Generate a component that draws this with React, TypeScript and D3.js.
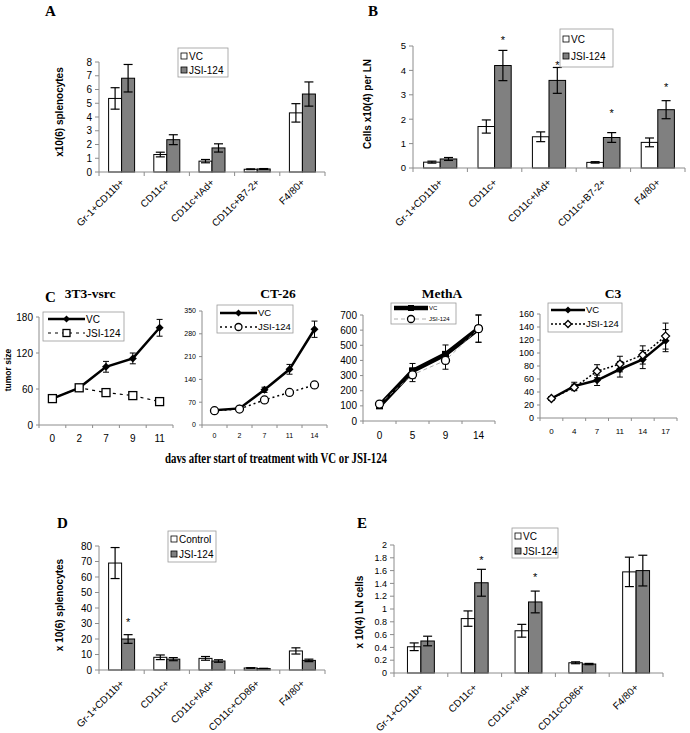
import * as d3 from "d3";

const SANS = "'Liberation Sans', Arial, Helvetica, sans-serif";
const SERIF = "'Liberation Serif', 'Times New Roman', serif";
const BAR_GREY = "#808080";
const AXIS = "#8c8c8c";

// ---------- bar panels ----------
const catsA = ["Gr-1+CD11b+", "CD11c+", "CD11c+IAd+", "CD11c+B7-2+", "F4/80+"];
const vcA = [5.35, 1.27, 0.79, 0.2, 4.3];
const vcErrA = [0.78, 0.17, 0.12, 0.03, 0.67];
const jsiA = [6.82, 2.35, 1.75, 0.22, 5.67];
const jsiErrA = [1.0, 0.36, 0.3, 0.03, 0.88];
const ticksA = [0, 1, 2, 3, 4, 5, 6, 7, 8];

const catsB = ["Gr-1+CD11b+", "CD11c+", "CD11c+IAd+", "CD11c+B7-2+", "F4/80+"];
const vcB = [0.24, 1.7, 1.28, 0.23, 1.05];
const vcErrB = [0.04, 0.27, 0.2, 0.03, 0.18];
const jsiB = [0.37, 4.2, 3.59, 1.25, 2.39];
const jsiErrB = [0.06, 0.62, 0.53, 0.2, 0.37];
const starsB = [null, 5.34, 4.32, 2.34, 3.42];
const ticksB = [0, 1, 2, 3, 4, 5];

const catsD = ["Gr-1+CD11b+", "CD11c+", "CD11c+IAd+", "CD11c+CD86+", "F4/80+"];
const ctrlD = [69, 8.2, 7.5, 1.3, 12.3];
const ctrlErrD = [10, 1.5, 1.2, 0.2, 2];
const jsiD = [20, 7, 5.8, 0.9, 6.2];
const jsiErrD = [2.8, 1, 0.8, 0.2, 0.8];
const starsD = [32, null, null, null, null];
const ticksD = [0, 10, 20, 30, 40, 50, 60, 70, 80];

const catsE = ["Gr-1+CD11b+", "CD11c+", "CD11c+IAd+", "CD11cCD86+", "F4/80+"];
const vcE = [0.41, 0.85, 0.66, 0.16, 1.58];
const vcErrE = [0.06, 0.12, 0.1, 0.015, 0.23];
const jsiE = [0.5, 1.41, 1.11, 0.14, 1.6];
const jsiErrE = [0.075, 0.21, 0.17, 0.01, 0.24];
const starsE = [null, 1.8, 1.53, null, null];
const ticksE = [0, 0.2, 0.4, 0.6, 0.8, 1, 1.2, 1.4, 1.6, 1.8, 2];

// ---------- line panels (tumor size) ----------
const days3T3 = ["0", "2", "7", "9", "11"];
const vc3T3 = [44, 62, 97, 111, 162];
const vcErr3T3 = [3, 3, 9, 9, 14];
const jsi3T3 = [44, 62, 54, 49, 39];
const jsiErr3T3 = [2, 2, 2, 2, 2];
const ticks3T3 = [0, 60, 120, 180];

const daysCT = ["0", "2", "7", "11", "14"];
const vcCT = [45, 51, 108, 171, 294];
const vcErrCT = [4, 5, 8, 15, 25];
const jsiCT = [44, 49, 77, 100, 123];
const jsiErrCT = [3, 4, 5, 6, 8];
const ticksCT = [0, 70, 140, 210, 280, 350];

const daysMeth = ["0", "5", "9", "14"];
const vcMeth = [100, 330, 440, 610];
const vcErrMeth = [12, 50, 62, 90];
const jsiMeth = [112, 305, 400, 610];
const jsiErrMeth = [10, 45, 58, 90];
const ticksMeth = [0, 100, 200, 300, 400, 500, 600, 700];

const daysC3 = ["0", "4", "7", "11", "14", "17"];
const vcC3 = [30, 49, 58, 75, 90, 119];
const vcErrC3 = [3, 6, 8, 12, 14, 17];
const jsiC3 = [30, 47, 72, 83, 97, 126];
const jsiErrC3 = [3, 5, 10, 12, 14, 20];
const ticksC3 = [0, 20, 40, 60, 80, 100, 120, 140, 160];

type Legend = { x: number; y: number; w: number; h: number; rows: number[]; labels: string[] };

type BarProps = {
  x0: number; x1: number; yTop: number; yBot: number;
  ticks: number[]; cats: string[];
  s1: number[]; e1: number[]; s2: number[]; e2: number[];
  stars: (number | null)[];
  frac: number; labelDy: number;
  yLabel: string; yLabelX: number; yLabelY: number;
  legend: Legend; fs: number;
};

function BarPanel(p: BarProps) {
  const y = d3.scaleLinear().domain([0, d3.max(p.ticks)!]).range([p.yBot, p.yTop]);
  const g = d3.scaleBand().domain(p.cats).range([p.x0, p.x1]);
  const gw = g.bandwidth();
  const cap = 4.5;
  return (
    <g>
      {p.ticks.map((t) => (
        <g key={t}>
          <line x1={p.x0 - 4} x2={p.x0} y1={y(t)} y2={y(t)} stroke={AXIS} />
          <text x={p.x0 - 7} y={y(t)} dy="0.35em" textAnchor="end" fontSize={p.fs} fontFamily={SANS}>
            {String(t)}
          </text>
        </g>
      ))}
      {p.cats.map((c, i) => {
        const cx = g(c)! + gw / 2;
        const inner = d3.scaleBand().domain(["a", "b"]).range([cx - (gw * p.frac) / 2, cx + (gw * p.frac) / 2]);
        const bw = inner.bandwidth();
        const series = [
          { k: "a", v: p.s1[i], e: p.e1[i], fill: "#fff" },
          { k: "b", v: p.s2[i], e: p.e2[i], fill: BAR_GREY },
        ];
        return (
          <g key={c}>
            {series.map((s) => {
              const bx = inner(s.k)!;
              const mx = bx + bw / 2;
              return (
                <g key={s.k}>
                  <rect x={bx} y={y(s.v)} width={bw} height={p.yBot - y(s.v)} fill={s.fill} stroke="#000" strokeWidth={1} />
                  <line x1={mx} x2={mx} y1={y(s.v + s.e)} y2={y(Math.max(0, s.v - s.e))} stroke="#000" strokeWidth={1.2} />
                  <line x1={mx - cap} x2={mx + cap} y1={y(s.v + s.e)} y2={y(s.v + s.e)} stroke="#000" strokeWidth={1.2} />
                  <line x1={mx - cap} x2={mx + cap} y1={y(Math.max(0, s.v - s.e))} y2={y(Math.max(0, s.v - s.e))} stroke="#000" strokeWidth={1.2} />
                </g>
              );
            })}
            {p.stars[i] != null && (
              <text x={inner("b")! + bw / 2} y={y(p.stars[i]!) + 6} textAnchor="middle" fontSize={11} fontFamily={SANS}>
                *
              </text>
            )}
            <text
              transform={`translate(${cx + 3},${p.yBot + p.labelDy}) rotate(-45)`}
              textAnchor="end"
              fontSize={10}
              fontFamily={SANS}
            >
              {c}
            </text>
          </g>
        );
      })}
      <line x1={p.x0} x2={p.x0} y1={p.yTop} y2={p.yBot} stroke={AXIS} />
      <line x1={p.x0} x2={p.x1} y1={p.yBot} y2={p.yBot} stroke={AXIS} />
      {d3.range(p.cats.length + 1).map((i) => (
        <line key={i} x1={p.x0 + i * gw} x2={p.x0 + i * gw} y1={p.yBot} y2={p.yBot + 4} stroke={AXIS} />
      ))}
      <text
        transform={`translate(${p.yLabelX},${p.yLabelY}) rotate(-90)`}
        textAnchor="middle"
        fontSize={10}
        fontWeight="bold"
        fontFamily={SANS}
      >
        {p.yLabel}
      </text>
      <rect x={p.legend.x} y={p.legend.y} width={p.legend.w} height={p.legend.h} fill="#fff" stroke="#999" strokeWidth={0.8} />
      {p.legend.labels.map((l, i) => (
        <g key={l}>
          <rect x={p.legend.x + 3} y={p.legend.rows[i] - 3} width={6} height={6} fill={i === 0 ? "#fff" : BAR_GREY} stroke="#000" strokeWidth={0.8} />
          <text x={p.legend.x + 11} y={p.legend.rows[i]} dy="0.35em" fontSize={10} fontFamily={SANS}>
            {l}
          </text>
        </g>
      ))}
    </g>
  );
}

type MarkerKind = "diamond" | "square" | "circle" | "odiamond" | "osquare" | "ocircle";

function Marker({ kind, x, y, r }: { kind: MarkerKind; x: number; y: number; r: number }) {
  const open = kind.startsWith("o");
  const fill = open ? "#fff" : "#000";
  const sw = open ? 1.3 : 0;
  if (kind === "diamond" || kind === "odiamond")
    return <path d={`M${x},${y - r}L${x + r},${y}L${x},${y + r}L${x - r},${y}Z`} fill={fill} stroke="#000" strokeWidth={sw} />;
  if (kind === "square" || kind === "osquare")
    return <rect x={x - r} y={y - r} width={2 * r} height={2 * r} fill={fill} stroke="#000" strokeWidth={sw} />;
  return <circle cx={x} cy={y} r={r} fill={fill} stroke="#000" strokeWidth={sw} />;
}

type LineStyle = { width: number; dash?: string; color: string; marker: MarkerKind; r: number };

type LineProps = {
  x0: number; x1: number; yTop: number; yBot: number;
  ticks: number[]; days: string[];
  vc: number[]; vcErr: number[]; jsi: number[]; jsiErr: number[];
  title: string; titleX: number;
  yFs: number; xFs: number; xLabelY: number;
  vcStyle: LineStyle; jsiStyle: LineStyle;
  legend: { x: number; y: number; w: number; h: number; rows: number[]; lx0: number; lx1: number; tx: number; fs: number };
};

function LinePanel(p: LineProps) {
  const y = d3.scaleLinear().domain([0, d3.max(p.ticks)!]).range([p.yBot, p.yTop]);
  const x = d3.scaleBand().domain(p.days).range([p.x0, p.x1]);
  const bw = x.bandwidth();
  const px = (d: string) => x(d)! + bw / 2;
  const line = d3.line<number>().x((_, i) => px(p.days[i])).y((v) => y(v));
  const series = [
    { v: p.vc, e: p.vcErr, s: p.vcStyle, label: "VC" },
    { v: p.jsi, e: p.jsiErr, s: p.jsiStyle, label: "JSI-124" },
  ];
  const L = p.legend;
  return (
    <g>
      <text x={p.titleX} y={298} textAnchor="middle" fontSize={13.5} fontWeight="bold" fontFamily={SERIF}>
        {p.title}
      </text>
      {p.ticks.map((t) => (
        <g key={t}>
          <line x1={p.x0 - 3} x2={p.x0} y1={y(t)} y2={y(t)} stroke={AXIS} />
          <text x={p.x0 - 6} y={y(t)} dy="0.35em" textAnchor="end" fontSize={p.yFs} fontFamily={SANS}>
            {String(t)}
          </text>
        </g>
      ))}
      <line x1={p.x0} x2={p.x0} y1={p.yTop} y2={p.yBot} stroke={AXIS} />
      <line x1={p.x0} x2={p.x1} y1={p.yBot} y2={p.yBot} stroke={AXIS} />
      {d3.range(p.days.length + 1).map((i) => (
        <line key={i} x1={p.x0 + i * bw} x2={p.x0 + i * bw} y1={p.yBot} y2={p.yBot + 3} stroke={AXIS} />
      ))}
      {p.days.map((d) => (
        <text key={d} x={px(d)} y={p.xLabelY} textAnchor="middle" fontSize={p.xFs} fontFamily={SANS}>
          {d}
        </text>
      ))}
      {series.map((s) => (
        <g key={s.label}>
          <path d={line(s.v)!} fill="none" stroke={s.s.color} strokeWidth={s.s.width} strokeDasharray={s.s.dash} />
          {s.v.map((v, i) => {
            const cx = px(p.days[i]);
            const hi = y(v + s.e[i]);
            const lo = y(v - s.e[i]);
            return (
              <g key={i}>
                <line x1={cx} x2={cx} y1={hi} y2={lo} stroke="#000" strokeWidth={1} />
                <line x1={cx - 3} x2={cx + 3} y1={hi} y2={hi} stroke="#000" strokeWidth={1} />
                <line x1={cx - 3} x2={cx + 3} y1={lo} y2={lo} stroke="#000" strokeWidth={1} />
                <Marker kind={s.s.marker} x={cx} y={y(v)} r={s.s.r} />
              </g>
            );
          })}
        </g>
      ))}
      <rect x={L.x} y={L.y} width={L.w} height={L.h} fill="#fff" stroke="#999" strokeWidth={0.8} />
      {series.map((s, i) => (
        <g key={s.label}>
          <line x1={L.lx0} x2={L.lx1} y1={L.rows[i]} y2={L.rows[i]} stroke={s.s.color} strokeWidth={s.s.width} strokeDasharray={s.s.dash} />
          <Marker kind={s.s.marker} x={(L.lx0 + L.lx1) / 2} y={L.rows[i]} r={Math.max(2.5, s.s.r - 0.5)} />
          <text x={L.tx} y={L.rows[i]} dy="0.35em" fontSize={L.fs} fontFamily={SANS}>
            {s.label}
          </text>
        </g>
      ))}
    </g>
  );
}

function Letter({ x, y, t }: { x: number; y: number; t: string }) {
  return (
    <text x={x} y={y} fontSize={15} fontWeight="bold" fontFamily={SERIF}>
      {t}
    </text>
  );
}

export default function App() {
  return (
    <svg width={690} height={733} style={{ position: "absolute", left: 0, top: 0, background: "#fff" }}>
      <rect width={690} height={733} fill="#fff" />
      <Letter x={45} y={16} t="A" />
      <Letter x={368} y={16} t="B" />
      <Letter x={45} y={302} t="C" />
      <Letter x={57} y={528} t="D" />
      <Letter x={357} y={528} t="E" />

      <BarPanel
        x0={99} x1={325} yTop={62} yBot={172} ticks={ticksA} cats={catsA}
        s1={vcA} e1={vcErrA} s2={jsiA} e2={jsiErrA} stars={[null, null, null, null, null]}
        frac={0.575} labelDy={11}
        yLabel="x10(6) splenocytes" yLabelX={63} yLabelY={112}
        legend={{ x: 178, y: 48, w: 50, h: 29, rows: [56, 70], labels: ["VC", "JSI-124"] }}
        fs={10}
      />
      <BarPanel
        x0={413} x1={685} yTop={46} yBot={168} ticks={ticksB} cats={catsB}
        s1={vcB} e1={vcErrB} s2={jsiB} e2={jsiErrB} stars={starsB}
        frac={0.61} labelDy={15}
        yLabel="Cells x10(4) per LN" yLabelX={371} yLabelY={104}
        legend={{ x: 560, y: 29, w: 53, h: 38, rows: [39, 56], labels: ["VC", "JSI-124"] }}
        fs={9.5}
      />

      <LinePanel
        x0={39} x1={173} yTop={317} yBot={425} ticks={ticks3T3} days={days3T3}
        vc={vc3T3} vcErr={vcErr3T3} jsi={jsi3T3} jsiErr={jsiErr3T3}
        title="3T3-vsrc" titleX={90} yFs={10} xFs={10} xLabelY={442}
        vcStyle={{ width: 2.5, color: "#000", marker: "diamond", r: 4 }}
        jsiStyle={{ width: 1.2, dash: "3,4", color: "#000", marker: "osquare", r: 4 }}
        legend={{ x: 43, y: 312, w: 81, h: 29, rows: [319, 333], lx0: 48, lx1: 85, tx: 86, fs: 10 }}
      />
      <LinePanel
        x0={202} x1={327} yTop={311} yBot={425} ticks={ticksCT} days={daysCT}
        vc={vcCT} vcErr={vcErrCT} jsi={jsiCT} jsiErr={jsiErrCT}
        title="CT-26" titleX={278} yFs={7} xFs={7} xLabelY={438}
        vcStyle={{ width: 2.5, color: "#000", marker: "diamond", r: 4 }}
        jsiStyle={{ width: 1.5, dash: "2,3", color: "#000", marker: "ocircle", r: 4 }}
        legend={{ x: 217, y: 305, w: 76, h: 28, rows: [313, 327], lx0: 220, lx1: 257, tx: 258, fs: 9.5 }}
      />
      <LinePanel
        x0={363} x1={495} yTop={315} yBot={421} ticks={ticksMeth} days={daysMeth}
        vc={vcMeth} vcErr={vcErrMeth} jsi={jsiMeth} jsiErr={jsiErrMeth}
        title="MethA" titleX={442} yFs={10} xFs={10} xLabelY={439}
        vcStyle={{ width: 4.5, color: "#000", marker: "square", r: 3.5 }}
        jsiStyle={{ width: 0.8, dash: "4,3", color: "#999", marker: "ocircle", r: 4 }}
        legend={{ x: 391, y: 303, w: 65, h: 21, rows: [308, 319], lx0: 394, lx1: 428, tx: 429, fs: 6 }}
      />
      <LinePanel
        x0={540} x1={677} yTop={314} yBot={418} ticks={ticksC3} days={daysC3}
        vc={vcC3} vcErr={vcErrC3} jsi={jsiC3} jsiErr={jsiErrC3}
        title="C3" titleX={613} yFs={9} xFs={8} xLabelY={434}
        vcStyle={{ width: 2.5, color: "#000", marker: "diamond", r: 4 }}
        jsiStyle={{ width: 1.5, dash: "2,2", color: "#000", marker: "odiamond", r: 4 }}
        legend={{ x: 548, y: 303, w: 74, h: 29, rows: [310, 324], lx0: 551, lx1: 585, tx: 586, fs: 9.5 }}
      />
      <text x={8} y={370} transform="rotate(-90 8 370)" textAnchor="middle" fontSize={8.5} fontWeight="bold" fontFamily={SANS} dy="0.35em">
        tumor size
      </text>
      <text x={276} y={463} textAnchor="middle" fontSize={14.5} fontWeight="bold" fontFamily={SERIF} textLength={222} lengthAdjust="spacingAndGlyphs">
        davs after start of treatment with VC or JSI-124
      </text>

      <BarPanel
        x0={99} x1={325} yTop={546} yBot={670} ticks={ticksD} cats={catsD}
        s1={ctrlD} e1={ctrlErrD} s2={jsiD} e2={jsiErrD} stars={starsD}
        frac={0.575} labelDy={14}
        yLabel="x 10(6) splenocytes" yLabelX={63} yLabelY={605}
        legend={{ x: 168, y: 531, w: 48, h: 31, rows: [539, 554], labels: ["Control", "JSI-124"] }}
        fs={10}
      />
      <BarPanel
        x0={394} x1={663} yTop={545} yBot={673} ticks={ticksE} cats={catsE}
        s1={vcE} e1={vcErrE} s2={jsiE} e2={jsiErrE} stars={starsE}
        frac={0.5} labelDy={15}
        yLabel="x 10(4) LN cells" yLabelX={363} yLabelY={612}
        legend={{ x: 512, y: 528, w: 46, h: 30, rows: [536, 551], labels: ["VC", "JSI-124"] }}
        fs={9}
      />
    </svg>
  );
}
